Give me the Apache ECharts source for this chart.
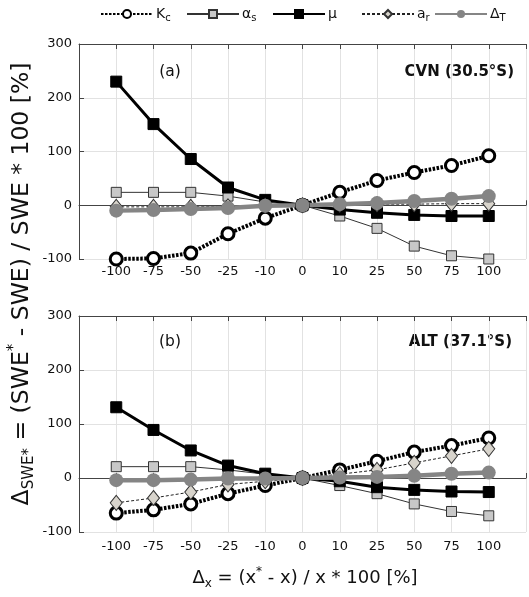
<!DOCTYPE html>
<html><head><meta charset="utf-8">
<script src="https://cdn.jsdelivr.net/npm/echarts@6/dist/echarts.min.js"></script>
<style>html,body{margin:0;padding:0;background:#fff}#c{width:529px;height:597px}</style>
</head><body><div id="c"></div>
<script>
const categories = ['-100','-75','-50','-25','-10','0','10','25','50','75','100'];
const yMin = -100, yMax = 300, yStep = 100;

// Panel (a) CVN
const cvnKc     = [-100, -99, -89, -53, -24, 0, 24, 46, 61, 74, 92];
const cvnAlphaS = [24, 24, 24, 17, 6, 0, -20, -43, -76, -94, -100];
const cvnMu     = [230, 151, 86, 33, 10, 0, -8, -14, -18, -20, -20];
const cvnAr     = [-3, -3, -3, -2, -1, 0, 1, 2, 2, 3, 3];
const cvnDeltaT = [-10, -9, -7, -5, -1, 0, 2, 4, 8, 12, 17];

// Panel (b) ALT
const altKc     = [-65, -59, -48, -29, -14, 0, 15, 31, 48, 60, 74];
const altAlphaS = [21, 21, 21, 15, 7, 0, -14, -29, -48, -62, -70];
const altMu     = [131, 89, 51, 23, 8, 0, -6, -17, -22, -25, -26];
const altAr     = [-46, -37, -26, -12, -6, 0, 7, 15, 28, 41, 54];
const altDeltaT = [-4, -4, -3, -1, -1, 0, 1, 2, 4, 8, 10];

const FONT = 'DejaVu Sans';
const axisCats = [''].concat(categories, ['']);
const pad = arr => [null].concat(arr, [null]);

const styles = {
  Kc: {symbol:'circle', symbolSize:12, lineStyle:{color:'#000', width:4, type:[2.5,1.5]},
       itemStyle:{color:'#fff', borderColor:'#000', borderWidth:3}},
  as: {symbol:'rect', symbolSize:10, lineStyle:{color:'#333', width:1},
       itemStyle:{color:'#c8c8c8', borderColor:'#333', borderWidth:1}},
  mu: {symbol:'rect', symbolSize:11, lineStyle:{color:'#000', width:3},
       itemStyle:{color:'#000', borderColor:'#000', borderWidth:1}},
  ar: {symbol:'diamond', symbolSize:[12,15], lineStyle:{color:'#222', width:1, type:[3,2]},
       itemStyle:{color:'#d8d4cc', borderColor:'#333', borderWidth:1}},
  dT: {symbol:'circle', symbolSize:14, lineStyle:{color:'#858585', width:4.5},
       itemStyle:{color:'#858585'}}
};

function mkSeries(name, data, gi) {
  const s = styles[name];
  return Object.assign({
    type:'line', name:name, xAxisIndex:gi*2, yAxisIndex:gi, data:pad(data),
    showAllSymbol:true, animation:false, connectNulls:false,
    emphasis:{disabled:true}
  }, JSON.parse(JSON.stringify(s)));
}

const grids = [
  {left:79, top:44, width:454, height:215},
  {left:79, top:316, width:454, height:216}
];

const xAxes = [], yAxes = [];
grids.forEach((g, i) => {
  xAxes.push({
    gridIndex:i, type:'category', data:axisCats, boundaryGap:false, position:'bottom',
    axisLine:{lineStyle:{color:'#444', width:1}},
    axisTick:{inside:true, length:5, interval:0, lineStyle:{color:'#444'}},
    axisLabel:{interval:0, fontFamily:FONT, fontSize:13, color:'#111', margin:i === 0 ? 6 : 8},
    splitLine:{show:true, interval:0, lineStyle:{color:'#e2e2e2', width:1}}
  });
  xAxes.push({
    gridIndex:i, type:'category', data:axisCats, boundaryGap:false, position:'top',
    axisLine:{lineStyle:{color:'#444', width:1}},
    axisTick:{inside:true, length:5, interval:0, lineStyle:{color:'#444'}},
    axisLabel:{show:false}, splitLine:{show:false}
  });
  yAxes.push({
    gridIndex:i, type:'value', min:yMin, max:yMax, interval:yStep,
    axisLine:{show:true, lineStyle:{color:'#444', width:1}},
    axisTick:{show:true, inside:true, length:5, lineStyle:{color:'#444'}},
    axisLabel:{fontFamily:FONT, fontSize:13, color:'#111', margin:7},
    splitLine:{show:true, lineStyle:{color:'#e2e2e2', width:1}}
  });
});

const names = ['Kc','as','mu','ar','dT'];
const series = [];
[[cvnKc,cvnAlphaS,cvnMu,cvnAr,cvnDeltaT],[altKc,altAlphaS,altMu,altAr,altDeltaT]].forEach((set, gi) => {
  set.forEach((d, k) => series.push(mkSeries(names[k], d, gi)));
});

const legendLabel = {Kc:'{m|K}{s|c}', as:'{m|α}{s|s}', mu:'{m|μ}', ar:'{m|a}{s|r}', dT:'{m|Δ}{s|T}'};
const legendLeft = [100, 186, 272, 361, 434];
const rich = {
  m:{fontFamily:FONT, fontSize:14, color:'#111', lineHeight:18},
  s:{fontFamily:FONT, fontSize:10, color:'#111', lineHeight:10, verticalAlign:'bottom'},
  p:{fontFamily:FONT, fontSize:10, color:'#111', lineHeight:10, verticalAlign:'top'}
};
const legends = names.map((n, i) => ({
  data:[n], left:legendLeft[i], top:7, itemWidth:52, itemHeight:10, itemGap:0,
  selectedMode:false, padding:0,
  formatter: nm => legendLabel[nm],
  textStyle:{rich:rich, padding:[0,0,0,-2]}
}));

const titleRich = {
  m:{fontFamily:FONT, fontSize:18, fill:'#111', lineHeight:24},
  s:{fontFamily:FONT, fontSize:12, fill:'#111', lineHeight:12, verticalAlign:'bottom'},
  p:{fontFamily:FONT, fontSize:12, fill:'#111', lineHeight:12, verticalAlign:'top'}
};
const yRich = {
  m:{fontFamily:FONT, fontSize:23.5, fill:'#111', lineHeight:30},
  s:{fontFamily:FONT, fontSize:15, fill:'#111', lineHeight:15, verticalAlign:'bottom'},
  p:{fontFamily:FONT, fontSize:15, fill:'#111', lineHeight:15, verticalAlign:'top'}
};

const graphic = [
  {type:'text', x:305, y:578, style:{text:'{m|Δ}{s|x}{m| = (x}{p|*}{m| - x) / x * 100 [%]}', rich:titleRich, align:'center', verticalAlign:'middle'}},
  {type:'text', x:22, y:284, rotation:Math.PI/2, style:{text:'{m|Δ}{s|SWE*}{m| = (SWE}{p|*}{m| - SWE) / SWE * 100 [%]}', rich:yRich, align:'center', verticalAlign:'middle'}},
  {type:'text', x:170, y:72, style:{text:'(a)', font:'15.5px "DejaVu Sans"', fill:'#111', align:'center', verticalAlign:'middle'}},
  {type:'text', x:514, y:72, style:{text:'CVN (30.5°S)', font:'bold 15px "DejaVu Sans"', fill:'#111', align:'right', verticalAlign:'middle'}},
  {type:'text', x:170, y:342, style:{text:'(b)', font:'15.5px "DejaVu Sans"', fill:'#111', align:'center', verticalAlign:'middle'}},
  {type:'text', x:512, y:342, style:{text:'ALT (37.1°S)', font:'bold 15px "DejaVu Sans"', fill:'#111', align:'right', verticalAlign:'middle'}}
];

const chart = echarts.init(document.getElementById('c'), null, {renderer:'canvas'});
chart.setOption({
  animation:false,
  backgroundColor:'#fff',
  grid:grids, xAxis:xAxes, yAxis:yAxes, series:series, legend:legends, graphic:graphic
});
</script></body></html>
